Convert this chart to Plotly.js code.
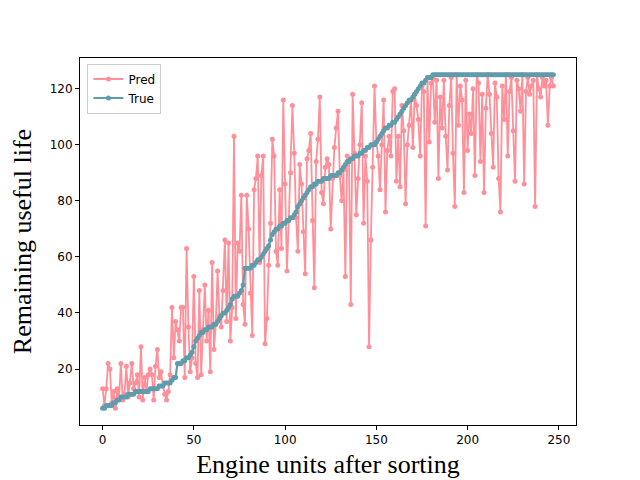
<!DOCTYPE html>
<html>
<head>
<meta charset="utf-8">
<script src="https://cdn.plot.ly/plotly-3.0.1.min.js"></script>
<style>body{margin:0;background:#fff}#chart{width:640px;height:480px}</style>
</head>
<body>
<div id="chart"></div>
<script>
// Predicted RUL per engine (sorted by true RUL)
const predValues = [
    13,7,13,22,20,8,12,6,13,10, 22,9,11,21,10,15,22,13,15,18,
    10,28,9,17,12,18,20,18,9,21, 27,17,19,14,11,9,12,18,42,24,
    37,34,30,42,42,17,63,35,19,24, 53,22,17,48,18,34,50,30,41,19,
    58,27,36,55,39,35,48,66,37,65, 30,42,103,38,65,62,82,43,36,82,
    70,47,32,84,88,96,58,89,96,29, 38,57,72,102,96,62,57,84,63,116,
    86,55,73,90,114,97,74,62,93,86, 69,54,95,98,104,73,49,94,102,117,
    83,79,92,95,93,70,88,99,106,112, 89,80,91,53,96,94,43,118,97,75,
    88,100,115,72,96,87,28,66,92,121, 101,96,84,100,116,76,98,103,96,119,
    120,87,103,85,114,105,79,100,107,116, 99,118,114,109,96,121,119,71,124,101,
    122,124,108,123,88,117,106,123,103,91, 114,124,97,78,125,107,121,116,83,123,
    98,111,104,120,89,125,122,94,118,83, 113,125,118,104,92,122,117,88,76,121,
    109,125,96,119,124,105,87,123,120,112, 125,86,119,124,118,121,123,78,125,120,
    117,124,121,123,107,121,124,121
];

// True RUL per engine (sorted)
const trueValues = [
    6,6,7,7,7,7,8,8,9,9, 10,10,10,10,11,11,11,11,12,12,
    12,12,12,12,12,12,13,13,13,13, 13,14,14,14,15,15,15,15,16,17,
    17,22,22,22,23,23,24,24,25,26, 28,30,31,32,33,33,34,34,35,35,
    35,36,36,37,38,39,40,40,41,42, 43,45,46,46,46,47,48,50,56,56,
    56,56,57,57,58,59,59,60,61,62, 63,64,66,68,69,70,70,71,71,72,
    72,73,73,74,74,75,76,78,79,80, 81,82,83,84,85,85,86,86,87,87,
    87,88,88,88,88,89,89,89,89,90, 90,91,92,93,94,94,95,95,96,96,
    96,97,97,98,98,99,99,100,100,100, 101,102,103,104,105,106,106,107,107,108,
    108,109,110,111,112,113,114,115,116,116, 117,118,119,120,121,122,122,123,124,124,
    124,
    125,125,125,125,125,125,125,125,125,125, 125,125,125,125,125,125,125,125,125,125,
    125,125,125,125,125,125,125,125,125,125, 125,125,125,125,125,125,125,125,125,125,
    125,125,125,125,125,125,125,125,125,125, 125,125,125,125,125,125,125,125,125,125,
    125,125,125,125,125,125,125
];

const engineIdx = predValues.map((_, i) => i);

const predTrace = {
    x: engineIdx, y: predValues, type: 'scatter', mode: 'lines+markers', name: 'Pred',
    line: { color: '#ff8f98', width: 1.8 },
    marker: { color: '#ff8f98', size: 5 }
};

const trueTrace = {
    x: engineIdx, y: trueValues, type: 'scatter', mode: 'lines+markers', name: 'True',
    line: { color: '#5f9cac', width: 2.2 },
    marker: { color: '#5f9cac', size: 5 }
};

const axisBase = {
    showgrid: false, zeroline: false, showline: true, mirror: true,
    linecolor: '#000', linewidth: 1, ticks: 'outside', ticklen: 4,
    tickcolor: '#000', tickfont: { family: 'DejaVu Sans', size: 12, color: '#000' }
};

const layout = {
    width: 640, height: 480,
    margin: { l: 80, r: 64, t: 58, b: 55 },
    paper_bgcolor: '#fff', plot_bgcolor: '#fff',
    showlegend: true,
    legend: {
        x: 0.015, y: 0.985, xanchor: 'left', yanchor: 'top',
        bordercolor: '#ccc', borderwidth: 1, bgcolor: '#fff',
        font: { family: 'DejaVu Sans', size: 12, color: '#000' }
    },
    xaxis: {
        ...axisBase, range: [-12.4, 259.4], tickvals: [0, 50, 100, 150, 200, 250],
        title: { text: 'Engine units after sorting', standoff: 8,
                 font: { family: 'Liberation Serif', size: 26, color: '#000' } }
    },
    yaxis: {
        ...axisBase, range: [0.05, 130.95], tickvals: [20, 40, 60, 80, 100, 120],
        title: { text: 'Remaining useful life', standoff: 10,
                 font: { family: 'Liberation Serif', size: 26, color: '#000' } }
    }
};

Plotly.newPlot('chart', [predTrace, trueTrace], layout, { displayModeBar: false });
</script>
</body>
</html>
